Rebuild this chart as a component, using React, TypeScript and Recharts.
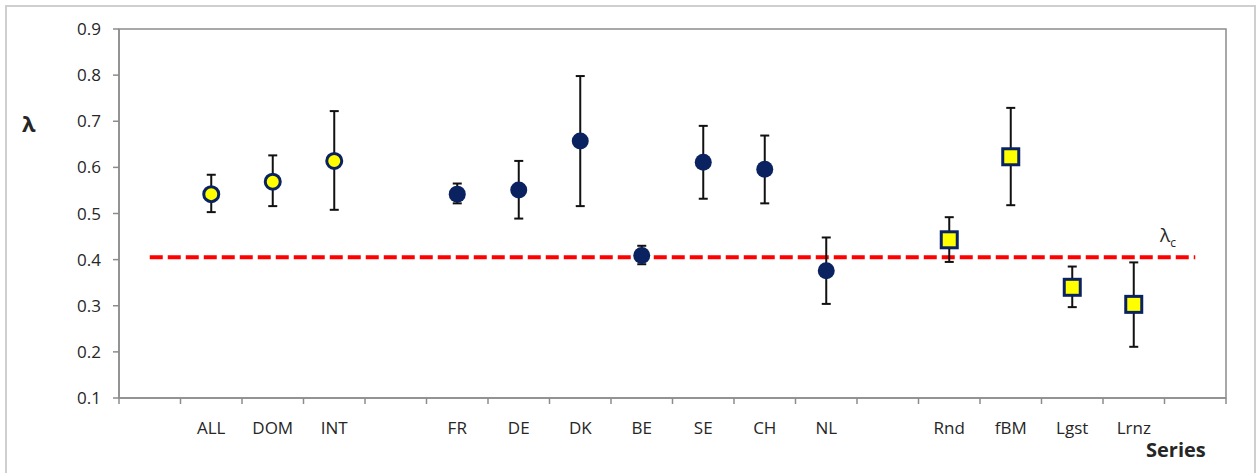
import { ComposedChart, Line, XAxis, YAxis, ErrorBar, ReferenceArea } from 'recharts';

// lambda estimates per series
const aggLabels = ['ALL', 'DOM', 'INT'];
const aggMean = [0.542, 0.569, 0.614];
const aggLow = [0.503, 0.516, 0.508];
const aggHigh = [0.584, 0.626, 0.722];

const countryLabels = ['FR', 'DE', 'DK', 'BE', 'SE', 'CH', 'NL'];
const countryMean = [0.542, 0.551, 0.657, 0.409, 0.611, 0.596, 0.376];
const countryLow = [0.522, 0.489, 0.516, 0.39, 0.532, 0.522, 0.304];
const countryHigh = [0.565, 0.614, 0.798, 0.43, 0.69, 0.669, 0.448];

const modelLabels = ['Rnd', 'fBM', 'Lgst', 'Lrnz'];
const modelMean = [0.443, 0.623, 0.34, 0.303];
const modelLow = [0.395, 0.518, 0.297, 0.211];
const modelHigh = [0.492, 0.729, 0.385, 0.394];

const lambdaC = 0.405;
const yTicks = [0.1, 0.2, 0.3, 0.4, 0.5, 0.6, 0.7, 0.8, 0.9];

// category slots: blank, group 1, blank, group 2, blank, group 3, blank
const categories = ['', ...aggLabels, '', ...countryLabels, '', ...modelLabels, ''];

type Row = { x: number; name: string; lc: number; [k: string]: any };

const rows: Row[] = categories.map((name, i) => ({ x: i + 0.5, name, lc: lambdaC }));

function fill(key: string, labels: string[], mean: number[], low: number[], high: number[]) {
    labels.forEach((lab, j) => {
        const row = rows.find((r) => r.name === lab)!;
        row[key] = mean[j];
        row[key + 'Err'] = [mean[j] - low[j], high[j] - mean[j]];
    });
}
fill('agg', aggLabels, aggMean, aggLow, aggHigh);
fill('country', countryLabels, countryMean, countryLow, countryHigh);
fill('model', modelLabels, modelMean, modelLow, modelHigh);

const NAVY = '#0b2261';
const YELLOW = '#ffff00';
const AXIS = '#8c8c8c';
const FONT = 'Open Sans, sans-serif';

const centerTicks = categories.map((_, i) => i + 0.5);
const edgeTicks = Array.from({ length: categories.length + 1 }, (_, i) => i);

const makeDot = (kind: 'ring' | 'solid' | 'square') => (p: any) => {
    const k = `dot-${kind}-${p.index}`;
    if (p.value == null || p.cy == null) return <g key={k} />;
    if (kind === 'square') {
        return <rect key={k} x={p.cx - 8} y={p.cy - 8} width={16} height={16} fill={YELLOW} stroke={NAVY} strokeWidth={3} />;
    }
    if (kind === 'ring') {
        return <circle key={k} cx={p.cx} cy={p.cy} r={7.5} fill={YELLOW} stroke={NAVY} strokeWidth={3} />;
    }
    return <circle key={k} cx={p.cx} cy={p.cy} r={8.5} fill={NAVY} stroke="none" />;
};

export default function App() {
    return (
        <div style={{ position: 'absolute', left: 0, top: 0, width: 1256, height: 473, background: '#fff', fontFamily: FONT }}>
            <div style={{ position: 'absolute', left: 5, top: 5, width: 1247, height: 470, border: '2px solid #cfcfcf' }} />
            <div style={{ position: 'absolute', left: 0, top: 0 }}>
                <ComposedChart width={1256} height={473} data={rows} margin={{ top: 29, right: 30, left: 59, bottom: 29 }}>
                    <XAxis
                        xAxisId="grid"
                        dataKey="x"
                        type="number"
                        domain={[0, categories.length]}
                        ticks={edgeTicks}
                        tick={{ fill: 'transparent', fontSize: 1 }}
                        tickFormatter={() => ''}
                        tickSize={6}
                        height={6}
                        stroke={AXIS}
                        strokeWidth={1.5}
                        allowDataOverflow
                    />
                    <XAxis
                        xAxisId="lab"
                        dataKey="x"
                        type="number"
                        domain={[0, categories.length]}
                        ticks={centerTicks}
                        interval={0}
                        axisLine={false}
                        tickLine={false}
                        tickSize={0}
                        tickMargin={18}
                        height={40}
                        tickFormatter={(v: number) => categories[Math.floor(v)]}
                        tick={{ fill: '#262626', fontSize: 17, fontFamily: FONT }}
                        allowDataOverflow
                    />
                    <YAxis
                        domain={[0.1, 0.9]}
                        ticks={yTicks}
                        width={60}
                        stroke={AXIS}
                        strokeWidth={1.5}
                        tickSize={6}
                        tickMargin={12}
                        tickFormatter={(v: number) => v.toFixed(1)}
                        tick={{ fill: '#262626', fontSize: 17, fontFamily: FONT }}
                        allowDataOverflow
                    />
                    <ReferenceArea xAxisId="grid" x1={0} x2={categories.length} y1={0.1} y2={0.9} fill="none" stroke={AXIS} strokeWidth={1.5} />
                    <Line
                        xAxisId="grid"
                        dataKey="lc"
                        stroke="#ff0000"
                        strokeWidth={4}
                        strokeDasharray="13 5"
                        dot={false}
                        activeDot={false}
                        isAnimationActive={false}
                    />
                    <Line xAxisId="lab" dataKey="agg" stroke="none" dot={makeDot('ring')} activeDot={false} isAnimationActive={false}>
                        <ErrorBar dataKey="aggErr" direction="y" width={4.5} stroke="#111" strokeWidth={2} />
                    </Line>
                    <Line xAxisId="lab" dataKey="country" stroke="none" dot={makeDot('solid')} activeDot={false} isAnimationActive={false}>
                        <ErrorBar dataKey="countryErr" direction="y" width={4.5} stroke="#111" strokeWidth={2} />
                    </Line>
                    <Line xAxisId="lab" dataKey="model" stroke="none" dot={makeDot('square')} activeDot={false} isAnimationActive={false}>
                        <ErrorBar dataKey="modelErr" direction="y" width={4.5} stroke="#111" strokeWidth={2} />
                    </Line>
                </ComposedChart>
            </div>
            <div style={{ position: 'absolute', left: 22, top: 108, fontSize: 22, fontWeight: 'bold', color: '#262626' }}>λ</div>
            <div style={{ position: 'absolute', left: 1160, top: 222, fontSize: 19, color: '#262626' }}>
                λ<sub style={{ fontSize: 12 }}>c</sub>
            </div>
            <div style={{ position: 'absolute', left: 1146, top: 436, fontSize: 20, fontWeight: 'bold', color: '#262626' }}>Series</div>
        </div>
    );
}
